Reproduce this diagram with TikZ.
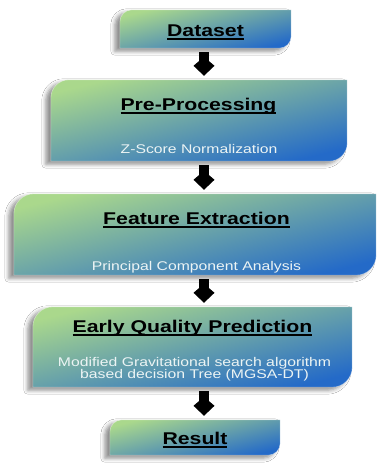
\documentclass[tikz,border=0pt]{standalone}
\usepackage{fontspec}
\setmainfont{Liberation Sans}[FakeStretch=1.25]
\usetikzlibrary{arrows.meta,shadows.blur,backgrounds,calc}
\definecolor{boxgreen}{RGB}{170,216,140}
\definecolor{boxblue}{RGB}{36,106,200}
\definecolor{subtext}{RGB}{236,244,244}
\newsavebox\ulsave
\newcommand\ulbox[1]{\sbox\ulsave{#1}\rlap{\rule[-2.8pt]{\wd\ulsave}{1.3pt}}\usebox\ulsave}
\newcommand\diagshape[2]{%
  \path[boxfill] (#1.south west) -- ([yshift=-#2]#1.north west)
    arc[start angle=180,end angle=90,radius=#2] -- (#1.north east)
    -- ([yshift=#2]#1.south east)
    arc[start angle=0,end angle=-90,radius=#2] -- cycle;}
\begin{document}
\begin{tikzpicture}[x=1pt,y=1pt,
  stepbox/.style={rectangle, inner sep=0pt, draw=none},
  boxfill/.style={top color=boxgreen, bottom color=boxblue, shading angle=14,
    draw=white, draw opacity=0.45, line width=0.6pt,
    blur shadow={shadow xshift=-5pt, shadow yshift=-3pt, shadow blur radius=4pt, shadow opacity=45}},
  titletext/.style={inner sep=0pt, anchor=base, font=\fontsize{17}{20}\selectfont\bfseries},
  subtitle/.style={inner sep=0pt, anchor=base, text=subtext, font=\fontsize{12.6}{14}\selectfont},
  flowarrow/.style={line width=10pt, -{Kite[length=19pt,width=21pt,inset=9pt]}, shorten <=4pt, shorten >=4pt}
]
\useasboundingbox (0,0) rectangle (378,465);

\node[stepbox, minimum width=171pt, minimum height=38pt] (b1) at (205.5,436) {};
\node[stepbox, minimum width=296pt, minimum height=81pt] (b2) at (199,344.5) {};
\node[stepbox, minimum width=362pt, minimum height=81pt] (b3) at (195,230.5) {};
\node[stepbox, minimum width=319pt, minimum height=80pt] (b4) at (192.5,118) {};
\node[stepbox, minimum width=170pt, minimum height=35pt] (b5) at (195,27.5) {};

\begin{scope}[on background layer]
  \fill[white] (0,0) rectangle (378,465);
  \diagshape{b1}{12pt}
  \diagshape{b2}{18pt}
  \diagshape{b3}{20pt}
  \diagshape{b4}{20pt}
  \diagshape{b5}{12pt}
\end{scope}

\node[titletext] (t1) at (205.5,428) {\ulbox{Dataset}};
\node[titletext] (t2) at (198.5,354) {\ulbox{Pre-Processing}};
\node[subtitle] (s2) at (199,311) {Z-Score Normalization};
\node[titletext] (t3) at (196.5,240) {\ulbox{Feature Extraction}};
\node[subtitle] (s3) at (196.5,194) {Principal Component Analysis};
\node[titletext] (t4) at (192.5,132) {\ulbox{Early Quality Prediction}};
\node[subtitle] (s4a) at (194.5,98) {Modified Gravitational search algorithm};
\node[subtitle] (s4b) at (194.5,86.5) {based decision Tree (MGSA-DT)};
\node[titletext] (t5) at (195,20) {\ulbox{Result}};

\coordinate (ax) at (204,0);
\draw[flowarrow] (b1.south -| ax) -- (b2.north -| ax);
\draw[flowarrow] (b2.south -| ax) -- (b3.north -| ax);
\draw[flowarrow] (b3.south -| ax) -- (b4.north -| ax);
\draw[flowarrow] (b4.south -| ax) -- (b5.north -| ax);
\end{tikzpicture}
\end{document}
